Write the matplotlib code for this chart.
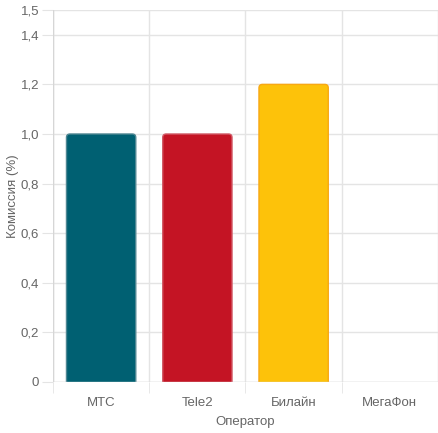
import matplotlib
matplotlib.use("Agg")
import matplotlib.pyplot as plt
from matplotlib.patches import FancyBboxPatch

# data
operators = ["МТС", "Tele2", "Билайн", "МегаФон"]
commission = [1.0, 1.0, 1.2, 0.0]
bar_colors = ["#006072", "#c41424", "#fdc20a", "#00a650"]
edge_colors = ["#4f8793", "#d25a66", "#f8a813", "#00a650"]
y_ticks = [0, 0.2, 0.4, 0.6, 0.8, 1.0, 1.2, 1.4, 1.5]

plt.rcParams["font.family"] = ["Liberation Sans", "DejaVu Sans"]
text_col = "#666666"
grid_col = "#e4e4e4"

fig = plt.figure(figsize=(4.39, 4.33), dpi=100)
ax = fig.add_axes([53 / 439, 51 / 433, 385 / 439, 372 / 433])

xs = list(range(len(operators)))
bars = ax.bar(xs, commission, width=0.72, color="none", edgecolor="none")

# rounded top corners, bottom hidden below zero line
px_x = 385 / len(operators)
px_y = 372 / 1.5
r = 3.5 / px_x
for b, c, e in zip(bars, bar_colors, edge_colors):
    h = b.get_height()
    if h <= 0:
        continue
    p = FancyBboxPatch((b.get_x() + r, -0.05), b.get_width() - 2 * r, h + 0.05 - r * px_x / px_y,
                       boxstyle=f"round,pad={r},rounding_size={r}",
                       mutation_aspect=px_x / px_y,
                       facecolor=c, edgecolor=e, linewidth=1, zorder=3)
    ax.add_patch(p)

ax.set_xlim(-0.5, len(operators) - 0.5)
ax.set_ylim(0, 1.5)
ax.set_yticks(y_ticks)
ax.set_yticklabels(["0" if t == 0 else ("%.1f" % t).replace(".", ",") for t in y_ticks])
ax.set_xticks(xs)
ax.set_xticklabels(operators)
ax.set_xticks([x + 0.5 for x in xs[:-1]] + [-0.5, len(operators) - 0.5], minor=True)

ax.grid(False)
for t in y_ticks:
    ax.axhline(t, color=grid_col, lw=1, zorder=0)
for x in [-0.5 + i for i in range(len(operators) + 1)]:
    ax.axvline(x, color=grid_col, lw=1, zorder=0)

for s in ax.spines.values():
    s.set_visible(False)
ax.axhline(0, color="#d6d6d6", lw=1, zorder=4)
ax.axvline(-0.5, color="#d6d6d6", lw=1, zorder=4)

ax.tick_params(axis="y", length=8, color=grid_col, labelcolor=text_col, labelsize=9.5, pad=2)
ax.tick_params(axis="x", which="major", length=0, labelcolor=text_col, labelsize=9.5, pad=11)
ax.tick_params(axis="x", which="minor", length=8, color=grid_col)

ax.set_xlabel("Оператор", color=text_col, fontsize=9.5, labelpad=5)
ax.set_ylabel("Комиссия (%)", color=text_col, fontsize=9.5, labelpad=1.5)

fig.savefig("out.png", dpi=100)
